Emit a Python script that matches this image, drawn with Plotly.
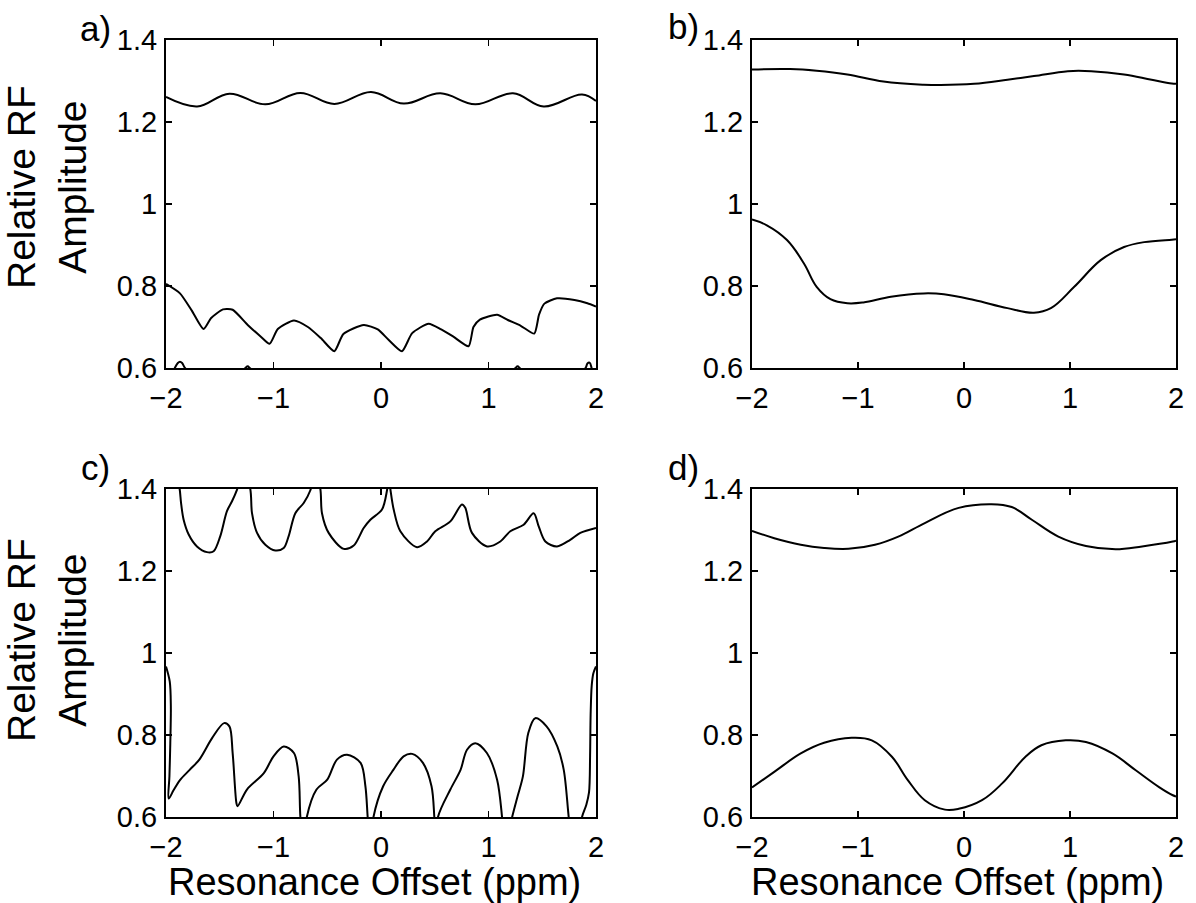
import plotly.graph_objects as go

# ---------------- data ----------------
x_ticks = [-2, -1, 0, 1, 2]
x_tick_text = ["\u22122", "\u22121", "0", "1", "2"]
y_ticks = [0.6, 0.8, 1.0, 1.2, 1.4]
y_tick_text = ["0.6", "0.8", "1", "1.2", "1.4"]

# panel a
a_upper_x = [-2.0, -1.71, -1.41, -1.076, -0.75, -0.434, -0.093, 0.211, 0.552, 0.877, 1.228, 1.513, 1.87, 2.0]
a_upper_y = [1.261, 1.238, 1.269, 1.243, 1.271, 1.244, 1.273, 1.245, 1.270, 1.243, 1.270, 1.238, 1.267, 1.251]
a_lower_x = [-2.0, -1.87, -1.76, -1.65, -1.58, -1.47, -1.38, -1.24, -1.12, -1.036, -0.96, -0.81, -0.68,
             -0.56, -0.434, -0.35, -0.16, -0.03, 0.07, 0.195, 0.29, 0.443, 0.56, 0.67, 0.815, 0.86, 0.92,
             1.08, 1.18, 1.30, 1.426, 1.47, 1.52, 1.637, 1.80, 1.92, 2.0]
a_lower_y = [0.805, 0.782, 0.740, 0.695, 0.722, 0.743, 0.742, 0.705, 0.677, 0.659, 0.695, 0.716, 0.700,
             0.673, 0.641, 0.683, 0.705, 0.694, 0.669, 0.641, 0.685, 0.708, 0.694, 0.677, 0.653, 0.700, 0.718,
             0.730, 0.717, 0.703, 0.684, 0.730, 0.757, 0.770, 0.766, 0.758, 0.750]
a_edge_x = [-2.0, -1.92, -1.89, -1.87, -1.85, -1.82, -1.6, -1.27, -1.24, -1.21, 0.0, 1.24, 1.27, 1.30, 1.6, 1.9, 1.92, 1.94, 1.96, 2.0]
a_edge_y = [0.55, 0.599, 0.612, 0.615, 0.612, 0.599, 0.55, 0.598, 0.604, 0.598, 0.55, 0.598, 0.604, 0.598, 0.55, 0.599, 0.611, 0.613, 0.599, 0.55]

# panel b
b_upper_x = [-2.0, -1.64, -1.39, -1.10, -0.76, -0.38, -0.22, 0.095, 0.41, 0.66, 0.98, 1.20, 1.51, 1.77, 1.96, 2.0]
b_upper_y = [1.328, 1.329, 1.325, 1.316, 1.299, 1.291, 1.290, 1.293, 1.303, 1.312, 1.324, 1.324, 1.316, 1.303, 1.294, 1.293]
b_lower_x = [-2.0, -1.86, -1.67, -1.51, -1.39, -1.26, -1.10, -0.95, -0.69, -0.38, -0.19, 0.095, 0.41, 0.66,
             0.82, 1.04, 1.29, 1.51, 1.70, 1.96, 2.0]
b_lower_y = [0.962, 0.948, 0.912, 0.855, 0.798, 0.768, 0.758, 0.760, 0.774, 0.782, 0.780, 0.766, 0.746, 0.735,
             0.746, 0.798, 0.863, 0.895, 0.907, 0.913, 0.914]

# panel c (values beyond the 0.6-1.4 window are clipped by the axes)
c_upper_x = [-2.0, -1.9, -1.873, -1.86, -1.836, -1.789, -1.712, -1.619, -1.557, -1.495, -1.433, -1.386, -1.34,
             -1.278, -1.216, -1.20, -1.153, -1.076, -0.983, -0.905, -0.859, -0.797, -0.719, -0.657,
             -0.611, -0.564, -0.549, -0.487, -0.347, -0.254, -0.161, -0.099, 0.009, 0.056,
             0.071, 0.087, 0.118, 0.180, 0.335, 0.428, 0.505, 0.645, 0.753, 0.784, 0.846, 0.986, 1.110,
             1.203, 1.327, 1.420, 1.467, 1.529, 1.637, 1.760, 1.854, 2.0]
c_upper_y = [1.47, 1.43, 1.40, 1.366, 1.325, 1.289, 1.260, 1.246, 1.248, 1.285, 1.346, 1.370, 1.398,
             1.45, 1.40, 1.341, 1.293, 1.264, 1.250, 1.256, 1.285, 1.341, 1.366, 1.397,
             1.45, 1.40, 1.341, 1.293, 1.254, 1.262, 1.305, 1.325, 1.350, 1.397,
             1.43, 1.40, 1.350, 1.297, 1.258, 1.272, 1.297, 1.321, 1.362, 1.354, 1.293, 1.260, 1.272,
             1.297, 1.313, 1.341, 1.309, 1.272, 1.260, 1.276, 1.293, 1.305]
c_lower_x = [-2.0, -1.965, -1.955, -1.96, -1.968, -1.975, -1.93, -1.87, -1.78, -1.69, -1.57, -1.46, -1.41,
             -1.38, -1.345, -1.335, -1.247, -1.09, -1.0, -0.905, -0.81, -0.766, -0.75, -0.72,
             -0.69, -0.6, -0.5, -0.41, -0.316, -0.19, -0.145, -0.124, -0.1,
             -0.07, 0.02, 0.115, 0.21, 0.29, 0.39, 0.47, 0.496, 0.51,
             0.53, 0.645, 0.74, 0.80, 0.877, 0.985, 1.08, 1.126, 1.15,
             1.22, 1.27, 1.32, 1.37, 1.435, 1.54, 1.64, 1.70, 1.746, 1.78,
             1.85, 1.87, 1.91, 1.935, 1.945, 1.95, 1.96, 1.975, 2.0]
c_lower_y = [0.967, 0.93, 0.87, 0.78, 0.70, 0.645, 0.665, 0.690, 0.715, 0.740, 0.793, 0.829, 0.821,
             0.756, 0.634, 0.626, 0.667, 0.707, 0.748, 0.772, 0.756, 0.699, 0.60, 0.52,
             0.60, 0.667, 0.691, 0.740, 0.752, 0.732, 0.675, 0.60, 0.52,
             0.60, 0.675, 0.715, 0.748, 0.754, 0.732, 0.675, 0.60, 0.52,
             0.60, 0.667, 0.715, 0.764, 0.780, 0.756, 0.691, 0.60, 0.52,
             0.60, 0.650, 0.699, 0.805, 0.841, 0.821, 0.772, 0.715, 0.60, 0.52,
             0.55, 0.60, 0.63, 0.66, 0.75, 0.85, 0.92, 0.95, 0.967]

# panel d
d_upper_x = [-2.0, -1.79, -1.54, -1.32, -1.09, -0.84, -0.62, -0.37, -0.05, 0.26, 0.45, 0.64, 0.89, 1.15, 1.43, 1.68, 1.97, 2.0]
d_upper_y = [1.298, 1.280, 1.264, 1.256, 1.254, 1.264, 1.284, 1.317, 1.354, 1.363, 1.356, 1.325, 1.284, 1.261, 1.253, 1.260, 1.272, 1.274]
d_lower_x = [-2.0, -1.79, -1.54, -1.32, -1.06, -0.87, -0.68, -0.53, -0.37, -0.18, -0.05, 0.17, 0.36, 0.58,
             0.73, 0.96, 1.15, 1.40, 1.62, 1.84, 1.97, 2.0]
d_lower_y = [0.672, 0.710, 0.755, 0.781, 0.793, 0.787, 0.747, 0.690, 0.641, 0.618, 0.620, 0.641, 0.682, 0.747,
             0.775, 0.787, 0.783, 0.755, 0.714, 0.673, 0.653, 0.650]

panel_labels = ["a)", "b)", "c)", "d)"]
x_title = "Resonance Offset (ppm)"
y_title = "Relative RF<br>Amplitude"

# ---------------- figure ----------------
W, H = 1196, 903
FONT = "Liberation Sans, Arial, Helvetica, sans-serif"

def px_x(p):
    return p / W

def px_y(p):
    return 1 - p / H

domains = {
    1: ([px_x(166), px_x(596)], [px_y(368), px_y(40)]),
    2: ([px_x(752), px_x(1176)], [px_y(368), px_y(40)]),
    3: ([px_x(166), px_x(596)], [px_y(817), px_y(489)]),
    4: ([px_x(752), px_x(1176)], [px_y(817), px_y(489)]),
}

fig = go.Figure()
smooth = dict(color="black", width=2, shape="spline", smoothing=1.1)
smooth_a_low = dict(color="black", width=2, shape="spline", smoothing=0.6)
smooth_c = dict(color="black", width=2, shape="spline", smoothing=0.9)

series = [
    (1, a_upper_x, a_upper_y, smooth),
    (1, a_lower_x, a_lower_y, smooth_a_low),
    (1, a_edge_x, a_edge_y, smooth),
    (2, b_upper_x, b_upper_y, smooth),
    (2, b_lower_x, b_lower_y, smooth),
    (3, c_upper_x, c_upper_y, smooth_c),
    (3, c_lower_x, c_lower_y, smooth_c),
    (4, d_upper_x, d_upper_y, smooth),
    (4, d_lower_x, d_lower_y, smooth),
]
for k, xs, ys, ln in series:
    sfx = "" if k == 1 else str(k)
    fig.add_trace(go.Scatter(x=xs, y=ys, mode="lines", line=ln, showlegend=False,
                             xaxis="x" + sfx, yaxis="y" + sfx, hoverinfo="skip"))

axis_common = dict(showgrid=False, zeroline=False, showline=True, linecolor="black", linewidth=2,
                   mirror="ticks", ticks="inside", ticklen=6, tickwidth=1.5, tickcolor="black",
                   automargin=False,
                   tickfont=dict(family=FONT, size=29, color="black"))

layout = dict(width=W, height=H, margin=dict(l=0, r=0, t=0, b=0, pad=0, autoexpand=False),
              template="none",
              paper_bgcolor="white", plot_bgcolor="white", showlegend=False)
for k in range(1, 5):
    sfx = "" if k == 1 else str(k)
    xd, yd = domains[k]
    layout["xaxis" + sfx] = dict(axis_common, domain=xd, range=[-2, 2], tickvals=x_ticks,
                                 ticktext=x_tick_text, anchor="y" + sfx, ticklabelstandoff=3)
    layout["yaxis" + sfx] = dict(axis_common, domain=yd, range=[0.6, 1.4], tickvals=y_ticks,
                                 ticktext=y_tick_text, anchor="x" + sfx, ticklabelstandoff=1)
fig.update_layout(**layout)

ann = []
label_pos = [(95, 28), (683, 26), (95, 468), (683, 468)]
for lab, (lx, ly) in zip(panel_labels, label_pos):
    ann.append(dict(text=lab, x=px_x(lx), y=px_y(ly), xref="paper", yref="paper",
                    showarrow=False, xanchor="center", yanchor="middle",
                    font=dict(family=FONT, size=35, color="black")))
for cx in (374, 957):
    ann.append(dict(text=x_title, x=px_x(cx), y=px_y(882), xref="paper", yref="paper",
                    showarrow=False, xanchor="center", yanchor="middle",
                    font=dict(family=FONT, size=38, color="black")))
for cy in (187, 640):
    ann.append(dict(text=y_title, x=px_x(47), y=px_y(cy), xref="paper", yref="paper",
                    showarrow=False, xanchor="center", yanchor="middle", textangle=-90,
                    font=dict(family=FONT, size=39, color="black")))
fig.update_layout(annotations=ann)

fig.write_html("out.html", config={"displayModeBar": False, "staticPlot": True},
               post_script="document.body.style.margin='0';document.body.style.overflow='hidden';")
